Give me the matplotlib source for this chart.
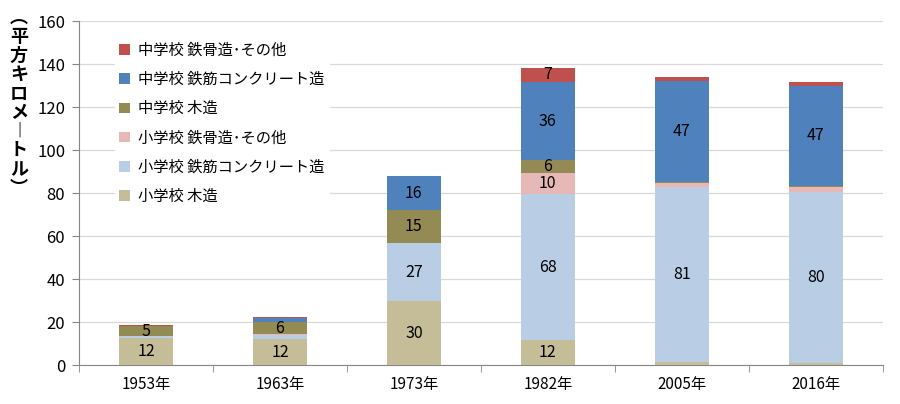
import numpy as np
import matplotlib
matplotlib.use('Agg')
import matplotlib.pyplot as plt

plt.rcParams['font.family'] = ['Noto Sans CJK JP', 'DejaVu Sans']

# =====================
# DATA (平方キロメートル)
# =====================
years = ['1953年', '1963年', '1973年', '1982年', '2005年', '2016年']

sho_wood = [12.4, 12.1, 29.6, 11.6, 1.5, 0.8]        # 小学校 木造
sho_rc = [0.9, 1.8, 27.1, 67.8, 81.2, 79.8]          # 小学校 鉄筋コンクリート造
sho_steel = [0.1, 0.3, 0.0, 9.9, 1.8, 2.2]           # 小学校 鉄骨造・その他
chu_wood = [4.7, 5.7, 15.3, 5.9, 0.8, 0.6]           # 中学校 木造
chu_rc = [0.1, 2.0, 15.9, 36.4, 46.6, 46.6]          # 中学校 鉄筋コンクリート造
chu_steel = [0.3, 0.5, 0.0, 6.6, 2.2, 1.6]           # 中学校 鉄骨造・その他

series = [
    ('小学校 木造', sho_wood, '#C4BD97'),
    ('小学校 鉄筋コンクリート造', sho_rc, '#B9CDE5'),
    ('小学校 鉄骨造･その他', sho_steel, '#E6B9B8'),
    ('中学校 木造', chu_wood, '#948A54'),
    ('中学校 鉄筋コンクリート造', chu_rc, '#4F81BD'),
    ('中学校 鉄骨造･その他', chu_steel, '#C0504D'),
]

# =====================
# PLOT
# =====================
fig = plt.figure(figsize=(9, 4.04), dpi=100)
ax = fig.add_axes([0.0878, 0.0965, 0.893, 0.8515])

x = np.arange(len(years))
bottom = np.zeros(len(years))
for name, vals, col in series:
    vals = np.array(vals)
    ax.bar(x, vals, width=0.4, bottom=bottom, color=col, label=name, zorder=3)
    for xi, b, v in zip(x, bottom, vals):
        if v >= 4.5:
            ax.text(xi, b + v / 2, str(int(round(v))), ha='center', va='center',
                    fontsize=11.5, color='black', zorder=4)
    bottom += vals

ax.set_xlim(-0.5, len(years) - 0.5)
ax.set_ylim(0, 160)
ax.set_yticks(range(0, 161, 20))
ax.set_xticks(x)
ax.set_xticklabels(years, fontsize=11)
ax.set_xticks(np.arange(-0.5, len(years), 1), minor=True)
ax.tick_params(axis='x', which='major', length=0, pad=8)
ax.tick_params(axis='x', which='minor', length=5, color='#868686')
ax.tick_params(axis='y', length=5, color='#868686', labelsize=12, pad=5)

ax.grid(axis='y', color='#D9D9D9', linewidth=0.9, zorder=0)
for s in ['top', 'right']:
    ax.spines[s].set_visible(False)
for s in ['left', 'bottom']:
    ax.spines[s].set_color('#868686')

# legend (reverse order, top = 中学校 鉄骨造)
h, l = ax.get_legend_handles_labels()
leg = ax.legend(h[::-1], l[::-1], loc='upper left', bbox_to_anchor=(0.035, 0.975),
                frameon=True, fontsize=11, handlelength=0.7, handleheight=0.7,
                labelspacing=0.8, handletextpad=0.5, borderpad=0.3)
leg.get_frame().set_edgecolor('white')
leg.get_frame().set_facecolor('white')
leg.get_frame().set_alpha(1)
leg.set_zorder(5)

# vertical y label
ylab = '\n'.join('︵平方キロメ︱トル︶')
fig.text(0.021, 0.745, ylab, ha='center', va='center', fontsize=13,
         linespacing=1.0, fontweight='bold')

fig.savefig('out.png', dpi=100)
